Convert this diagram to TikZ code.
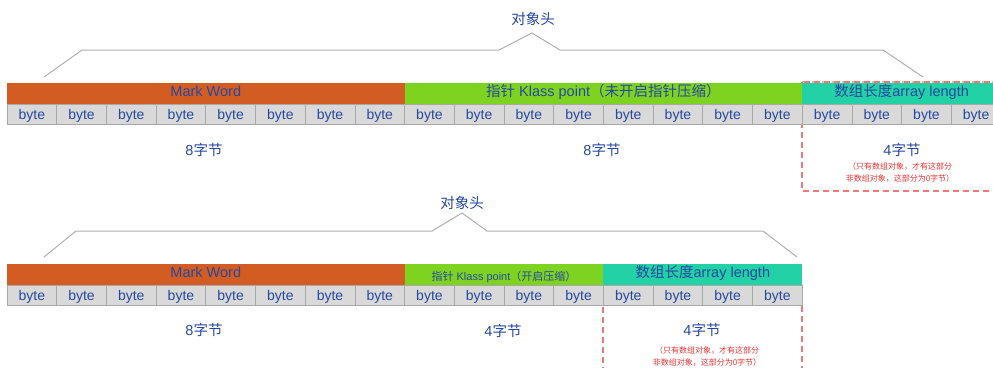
\documentclass[tikz,border=0pt]{standalone}
\usepackage{fontspec}
\setmainfont{Liberation Sans}
\newfontfamily\cjk{Noto Sans CJK SC}
\definecolor{orng}{RGB}{210,92,34}
\definecolor{grn}{RGB}{126,211,33}
\definecolor{tealb}{RGB}{34,209,166}
\definecolor{cellg}{RGB}{217,217,217}
\definecolor{cellb}{RGB}{168,168,168}
\definecolor{txtb}{RGB}{38,72,160}
\definecolor{redt}{RGB}{230,50,50}
\definecolor{redd}{RGB}{240,120,120}
\definecolor{brk}{RGB}{175,175,175}
\begin{document}
\begin{tikzpicture}[x=1pt,y=-1pt,
 cell/.style={draw=cellb, fill=cellg, line width=0.8pt, minimum width=49.7pt, minimum height=20pt, inner sep=0pt, outer sep=0pt, text height=10pt, text depth=0pt, anchor=north west, text=txtb, font=\fontsize{14}{16}\selectfont},
 band/.style={minimum height=21pt, inner sep=0pt, outer sep=0pt, text height=9pt, text depth=4pt, anchor=north west, text=txtb, font=\fontsize{14.5}{16}\selectfont},
 lbl/.style={text=txtb, font=\fontsize{14.5}{16}\selectfont, inner sep=0pt},
 note/.style={text=redt, font=\cjk\fontsize{8}{12}\selectfont, align=center, inner sep=0pt},
 dashbox/.style={draw=redd, line width=1.2pt, dash pattern=on 6pt off 4pt},
 bracket/.style={draw=brk, line width=1pt}]
\useasboundingbox (0,0) rectangle (993,367);
\clip (0,0) rectangle (993,367);
% dashed boxes (behind)
\coordinate (d1) at (802,82);
\coordinate (d2) at (1012,191);
\draw[dashbox] (d1) rectangle (d2);
\coordinate (d3) at (603,287);
\coordinate (d4) at (802,375);
\draw[dashbox] (d3) rectangle (d4);
% top row
\node[band, fill=orng, minimum width=397.6pt] (mw) at (7,83) {Mark Word};
\node[band, fill=grn, minimum width=397.6pt] (kp) at (mw.north east) {{\cjk 指针} Klass point{\cjk （未开启指针压缩）}};
\node[band, fill=tealb, minimum width=198.8pt] (al) at (kp.north east) {{\cjk 数组长度}array length};
\foreach \i in {1,...,20} \node[cell] (t\i) at ({7+(\i-1)*49.7},104) {byte};
\draw[dashbox, draw opacity=0.6] (d1) -- (d1 -| d2);
\node[lbl] (s1) at (204,150) {8{\cjk 字节}};
\node[lbl] (s2) at (602,150) {8{\cjk 字节}};
\node[lbl] (s3) at (902,150) {4{\cjk 字节}};
\node[note] (n1) at (900,172.5) {（只有数组对象，才有这部分\\非数组对象，这部分为0字节）};
% top bracket
\node[lbl] (hd1) at (533,18.5) {{\cjk 对象头}};
\coordinate (a1) at (44,77);
\coordinate (a2) at (82,50);
\coordinate (a3) at (499,50);
\coordinate (a4) at (532,33);
\coordinate (a5) at (560,50);
\coordinate (a6) at (883,50);
\coordinate (a7) at (923,77);
\draw[bracket] (a1) -- (a2) -- (a3) -- (a4) -- (a5) -- (a6) -- (a7);
% bottom row
\node[band, fill=orng, minimum width=397.6pt] (mw2) at (7,264) {Mark Word};
\node[band, fill=grn, minimum width=198.8pt, text height=12pt, text depth=0pt, font=\fontsize{11}{12}\selectfont] (kp2) at (mw2.north east) {{\cjk 指针} Klass point{\cjk （开启压缩）}};
\node[band, fill=tealb, minimum width=198.8pt] (al2) at (kp2.north east) {{\cjk 数组长度}array length};
\foreach \i in {1,...,16} \node[cell] (b\i) at ({7+(\i-1)*49.7},285) {byte};
\node[lbl] (u1) at (204,330) {8{\cjk 字节}};
\node[lbl] (u2) at (503,331) {4{\cjk 字节}};
\node[lbl] (u3) at (702,330) {4{\cjk 字节}};
\node[note] (n2) at (707,356.5) {（只有数组对象，才有这部分\\非数组对象，这部分为0字节）};
% bottom bracket
\node[lbl] (hd2) at (462,203) {{\cjk 对象头}};
\coordinate (c1) at (44,257);
\coordinate (c2) at (76,231);
\coordinate (c3) at (432,231);
\coordinate (c4) at (462,213);
\coordinate (c5) at (487,231);
\coordinate (c6) at (763,231);
\coordinate (c7) at (797,257);
\draw[bracket] (c1) -- (c2) -- (c3) -- (c4) -- (c5) -- (c6) -- (c7);
\end{tikzpicture}
\end{document}
